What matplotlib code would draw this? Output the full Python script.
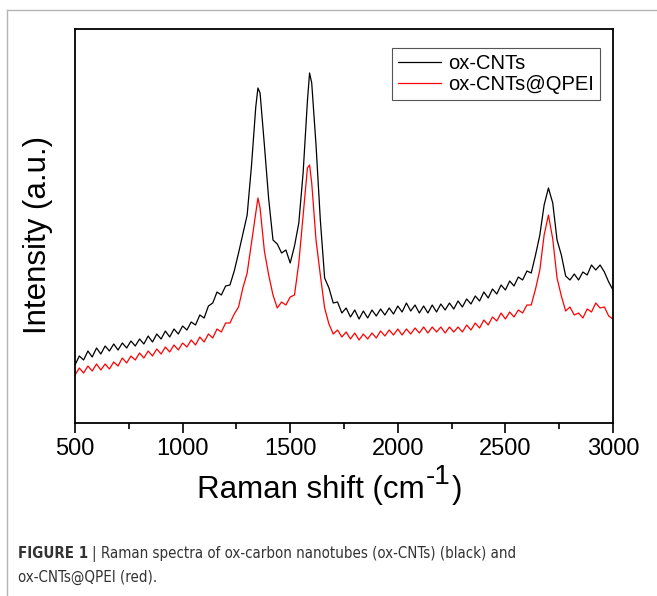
import matplotlib.pyplot as plt
from matplotlib.lines import Line2D
from matplotlib.ticker import MultipleLocator

# Raman shift (cm-1)
shift = [500, 520, 540, 560, 580, 600, 620, 640, 660, 680, 700, 720, 740, 760, 780,
         800, 820, 840, 860, 880, 900, 920, 940, 960, 980, 1000, 1020, 1040, 1060, 1080,
         1100, 1120, 1140, 1160, 1180, 1200, 1220, 1240, 1260, 1280, 1300, 1320, 1340,
         1350, 1360, 1380, 1400, 1420, 1440, 1460, 1480, 1500, 1520, 1540, 1560, 1580,
         1590, 1600, 1620, 1640, 1660, 1680, 1700, 1720, 1740, 1760, 1780, 1800, 1820,
         1840, 1860, 1880, 1900, 1920, 1940, 1960, 1980, 2000, 2020, 2040, 2060, 2080,
         2100, 2120, 2140, 2160, 2180, 2200, 2220, 2240, 2260, 2280, 2300, 2320, 2340,
         2360, 2380, 2400, 2420, 2440, 2460, 2480, 2500, 2520, 2540, 2560, 2580, 2600,
         2620, 2640, 2660, 2680, 2700, 2720, 2740, 2760, 2780, 2800, 2820, 2840, 2860,
         2880, 2900, 2920, 2940, 2960, 2980, 3000]

# ox-CNTs
cnt = [58, 67, 63, 72, 66, 75, 69, 77, 72, 79, 73, 80, 75, 82, 77,
       84, 79, 87, 81, 89, 84, 92, 86, 94, 89, 97, 93, 101, 98, 108,
       105, 117, 120, 131, 128, 137, 138, 152, 170, 189, 208, 257, 316,
       335, 330, 278, 224, 183, 179, 170, 173, 160, 177, 200, 250, 322,
       350, 340, 278, 203, 145, 135, 120, 121, 110, 115, 106, 113, 104,
       112, 105, 113, 107, 114, 108, 115, 109, 117, 111, 120, 112, 118,
       110, 117, 110, 118, 111, 119, 113, 120, 114, 122, 116, 124, 119,
       127, 122, 131, 125, 134, 129, 138, 133, 142, 137, 146, 143, 152,
       150, 168, 188, 218, 235, 220, 183, 168, 147, 143, 149, 143, 151,
       148, 158, 153, 158, 151, 141, 133]

# ox-CNTs@QPEI
qpei = [48, 55, 50, 57, 52, 59, 53, 59, 54, 61, 57, 65, 60, 67, 63,
        70, 65, 72, 67, 74, 69, 76, 71, 78, 73, 80, 76, 83, 78, 86,
        81, 89, 85, 94, 91, 100, 100, 109, 116, 135, 150, 180, 210,
        225, 215, 172, 148, 128, 115, 121, 118, 126, 128, 160, 207, 255,
        258, 240, 183, 148, 115, 99, 89, 93, 86, 91, 84, 90, 83,
        89, 84, 90, 85, 92, 87, 93, 88, 94, 88, 94, 89, 95,
        90, 96, 90, 96, 91, 96, 90, 96, 91, 96, 91, 98, 93,
        100, 95, 103, 98, 106, 102, 110, 104, 111, 106, 113, 110, 118,
        118, 134, 153, 188, 208, 184, 145, 127, 112, 116, 108, 110, 105,
        114, 111, 120, 115, 116, 107, 104]

plt.rcParams['font.family'] = ['Liberation Sans', 'DejaVu Sans']

W, H = 657, 596
fig = plt.figure(figsize=(W / 100, H / 100), dpi=100)
ax = fig.add_axes([75 / W, 1 - 423 / H, 538 / W, 394 / H])

ax.plot(shift, cnt, color='black', lw=0.9, label='ox-CNTs')
ax.plot(shift, qpei, color='red', lw=0.9, label='ox-CNTs@QPEI')

ax.set_xlim(500, 3000)
ax.set_ylim(0, 394)
ax.xaxis.set_major_locator(MultipleLocator(500))
ax.xaxis.set_minor_locator(MultipleLocator(250))
ax.set_yticks([])
ax.tick_params(axis='x', which='major', direction='out', length=7, width=1.2,
               labelsize=17, pad=4)
ax.tick_params(axis='x', which='minor', direction='out', length=4, width=1.2)
for s in ax.spines.values():
    s.set_linewidth(1.3)

ax.set_ylabel('Intensity (a.u.)', fontsize=22.5)
ax.yaxis.set_label_coords(-0.04, 0.477)

leg = ax.legend(loc='upper right', bbox_to_anchor=(600 / W, 1 - 48 / H),
                bbox_transform=fig.transFigure, borderaxespad=0, fontsize=14.5,
                handlelength=2.15, handletextpad=0.35, borderpad=0.3,
                labelspacing=0.1, fancybox=False, framealpha=1)
leg.get_frame().set_edgecolor('#555555')
leg.get_frame().set_linewidth(0.8)

renderer = fig.canvas.get_renderer()


def put(x, y, s, **kw):
    # place text at pixel x (left) / baseline y (from top), return right edge
    t = fig.text(x / W, 1 - y / H, s, va='baseline', ha='left', **kw)
    return t.get_window_extent(renderer).x1


# x axis label with full size raised superscript
xl = put(197, 498, 'Raman shift (cm', fontsize=22.5)
xl = put(xl + 1, 484, '-1', fontsize=20)
put(xl + 1, 498, ')', fontsize=22.5)

# page border
fig.add_artist(Line2D([7 / W, 1.0], [1 - 10 / H, 1 - 10 / H], color='#b5b5b5', lw=1))
fig.add_artist(Line2D([7 / W, 7 / W], [0.0, 1 - 10 / H], color='#b5b5b5', lw=1))

# caption
cap = dict(family=['DejaVu Sans'], fontstretch='condensed', color='#333333')
cx = put(18, 558, 'FIGURE 1', fontsize=10.8, fontweight='bold', **cap)
put(cx + 4, 558, '| Raman spectra of ox-carbon nanotubes (ox-CNTs) (black) and',
    fontsize=10.8, **cap)
put(18, 582, 'ox-CNTs@QPEI (red).', fontsize=10.8, **cap)

fig.savefig('out.png', dpi=100)
